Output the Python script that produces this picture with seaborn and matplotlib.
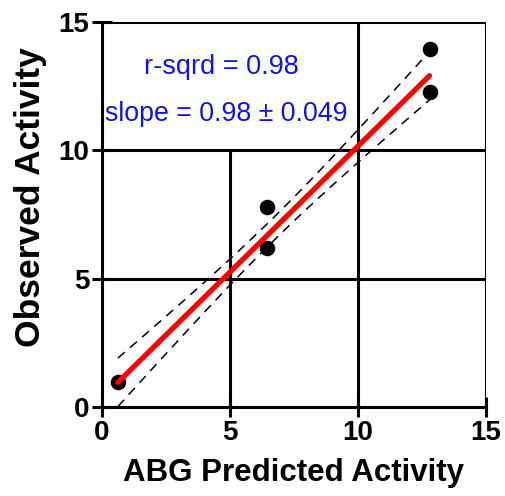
import numpy as np
import pandas as pd
import matplotlib
matplotlib.use("Agg")
import matplotlib.pyplot as plt
import seaborn as sns

# Predicted vs observed activity
predicted = [0.62, 6.45, 6.45, 12.8, 12.8]
observed = [0.97, 7.8, 6.2, 13.95, 12.25]

# Linear fit reported on the chart
r_sqrd = 0.98
slope = 0.98
slope_se = 0.049
intercept = 0.36
t_crit = 2.776
center_halfwidth = 0.45

ticks = [0, 5, 10, 15]

sns.set_theme(style="white")
plt.rcParams["font.family"] = ["Liberation Sans", "DejaVu Sans"]
plt.rcParams.update({"text.color": "black", "axes.labelcolor": "black",
                     "xtick.color": "black", "ytick.color": "black"})

fig = plt.figure(figsize=(5.05, 4.96), dpi=100)
ax = fig.add_axes([0.202, 0.179, 0.760, 0.777])

df = pd.DataFrame({"predicted": predicted, "observed": observed})

# Fitted line and 95% confidence band over the data range
xs = np.linspace(min(predicted), max(predicted), 200)
fit = intercept + slope * xs
xc = (min(predicted) + max(predicted)) / 2
half = np.sqrt(center_halfwidth ** 2 + (t_crit * slope_se * (xs - xc)) ** 2)
line_df = pd.DataFrame({"x": xs, "fit": fit, "lo": fit - half, "hi": fit + half})

grid_kw = dict(color="black", lw=2.2, zorder=1)
for v in [5, 10, 15]:
    ax.axhline(v, **grid_kw)
for v in [10, 15]:
    ax.axvline(v, **grid_kw)
ax.axvline(5, ymax=10 / 15, **grid_kw)

sns.lineplot(data=line_df, x="x", y="hi", ax=ax, color="black", lw=1.1,
             dashes=False, linestyle=(0, (6, 4.5)), zorder=2)
sns.lineplot(data=line_df, x="x", y="lo", ax=ax, color="black", lw=1.1,
             dashes=False, linestyle=(0, (6, 4.5)), zorder=2)
sns.scatterplot(data=df, x="predicted", y="observed", ax=ax, color="black",
                s=125, edgecolor="black", linewidth=0, zorder=3)
sns.lineplot(data=line_df, x="x", y="fit", ax=ax, color="#ff0000", lw=3.8,
             zorder=4)

ax.set_xlim(0, 15)
ax.set_ylim(0, 15)
ax.set_xticks(ticks)
ax.set_yticks(ticks)
ax.set_xticklabels([str(t) for t in ticks], fontsize=20, fontweight="bold")
ax.set_yticklabels([str(t) for t in ticks], fontsize=20, fontweight="bold")
ax.tick_params(direction="inout", length=14, width=2.2, color="black",
               labelcolor="black", pad=2, bottom=True, left=True)
for side in ["top", "right"]:
    ax.spines[side].set_visible(False)
for side in ["left", "bottom"]:
    ax.spines[side].set_color("black")
    ax.spines[side].set_linewidth(2.2)
    ax.spines[side].set_zorder(5)

ax.set_xlabel("ABG Predicted Activity", fontsize=22.5, fontweight="bold",
              labelpad=9, color="black")
ax.set_ylabel("Observed Activity", fontsize=25.5, fontweight="bold",
              color="black")
ax.yaxis.set_label_coords(-0.143, 0.545)

blue = "#1414d8"
ax.text(4.65, 13.25, f"r-sqrd = {r_sqrd:.2f}", color=blue, fontsize=19.5,
        ha="center", va="center", zorder=6)
ax.text(4.86, 11.4, f"slope = {slope:.2f} \u00b1 {slope_se:.3f}", color=blue,
        fontsize=19.3, ha="center", va="center", zorder=6)

fig.savefig("out.png", dpi=100, facecolor="white")
